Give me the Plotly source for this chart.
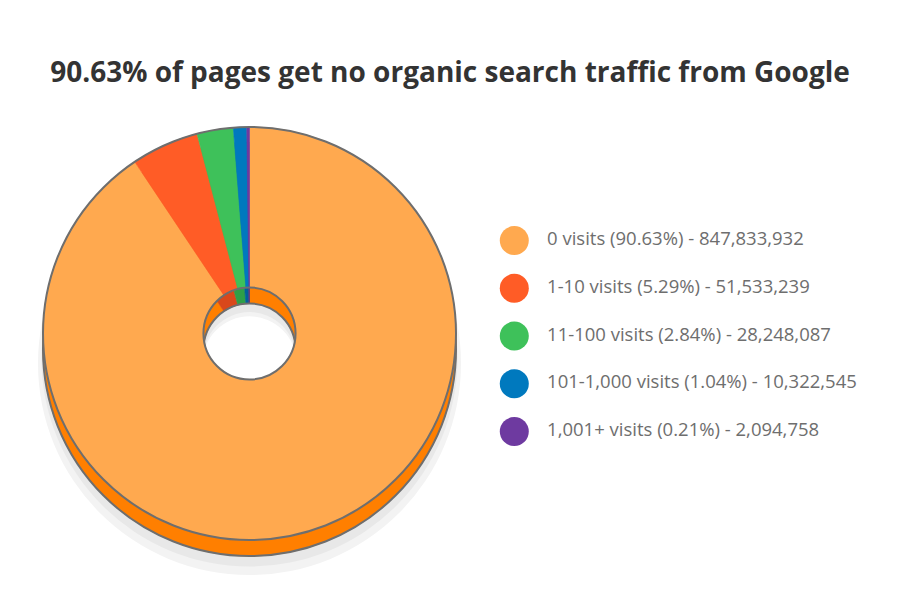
import plotly.graph_objects as go

# data
categories = ['0 visits', '1-10 visits', '11-100 visits', '101-1,000 visits', '1,001+ visits']
shares = [90.63, 5.29, 2.84, 1.04, 0.21]          # % of pages, used for the slices
pages = [847833932, 51533239, 28248087, 10322545, 2094758]

top_colors = ['#ffa94f', '#ff5c26', '#3ec15a', '#0079be', '#6e3aa0']
side_colors = ['#ff7f00', '#d9481b', '#2e9f48', '#00619a', '#572e80']

W, H = 900, 595
CX, CY, R = 249.5, 333.5, 206.5   # pie centre / radius in px
DEPTH = 16                        # fake 3d thickness
HOLE = 0.223
EDGE = '#6e6e6e'


def pie_domain(dy=0, r=R):
    """paper domain for a pie whose centre is shifted dy px down"""
    cy = CY + dy
    return dict(x=[(CX - r) / W, (CX + r) / W],
                y=[(H - cy - r) / H, (H - cy + r) / H])


def disk(dy, color, line_w=0, r=R):
    # single slice pie = full annulus, used for outlines and the shadow
    return go.Pie(values=[sum(shares)], hole=HOLE, sort=False, textinfo='none',
                  hoverinfo='skip', showlegend=False, domain=pie_domain(dy, r),
                  marker=dict(colors=[color], line=dict(color=EDGE, width=line_w)))


def slices(dy, colors):
    return go.Pie(values=shares, labels=categories, hole=HOLE, sort=False,
                  direction='clockwise', rotation=0, textinfo='none',
                  showlegend=False, domain=pie_domain(dy),
                  marker=dict(colors=colors, line=dict(color=colors, width=0.6)))


fig = go.Figure()

# soft shadow under the donut
fig.add_trace(disk(DEPTH + 14, '#f3f3f3', r=R + 5))
fig.add_trace(disk(DEPTH + 9, '#e8e8e8', r=R + 1.5))

# side wall, then top face
fig.add_trace(slices(DEPTH, side_colors))
fig.add_trace(disk(DEPTH, 'rgba(0,0,0,0)', line_w=2))
fig.add_trace(slices(0, top_colors))
fig.add_trace(disk(0, 'rgba(0,0,0,0)', line_w=2))

# legend drawn as a scatter so the dots can be big circles
labels = [f'{c} ({s:.2f}%) - {p:,}' for c, s, p in zip(categories, shares, pages)]
fig.add_trace(go.Scatter(x=[0] * len(categories), y=categories, mode='markers',
                         marker=dict(size=29, color=top_colors),
                         hoverinfo='skip', showlegend=False))
fig.add_trace(go.Scatter(x=[0.85] * len(categories), y=categories, mode='text',
                         text=labels, textposition='middle right',
                         textfont=dict(family='Open Sans', size=18.5, color='#6e6e6e'),
                         hoverinfo='skip', showlegend=False))

fig.update_layout(
    width=W, height=H,
    margin=dict(l=0, r=0, t=0, b=0),
    paper_bgcolor='white', plot_bgcolor='white',
    title=dict(text='<b>90.63% of pages get no organic search traffic from Google</b>',
               x=0.5, xanchor='center', y=1 - 72 / H, yanchor='middle',
               font=dict(family='Open Sans', size=28, color='#333333')),
    xaxis=dict(domain=[0.55, 1.0], range=[-0.5, 10], visible=False, fixedrange=True),
    yaxis=dict(domain=[0.2346, 0.6359], range=[4.5, -0.5], visible=False,
               type='category', categoryorder='array', categoryarray=categories,
               fixedrange=True),
)

# page body has a default 8px margin, drop it so the figure sits at 0,0
fig.write_html('out.html', config={'displayModeBar': False},
               post_script="document.body.style.margin='0';")
